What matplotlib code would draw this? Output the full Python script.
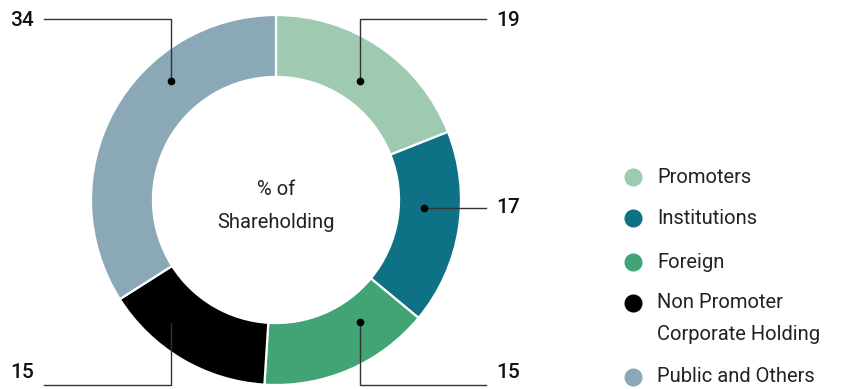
import matplotlib
matplotlib.use('Agg')
from matplotlib import pyplot as plt

plt.rcParams['font.family'] = ['Roboto', 'DejaVu Sans']

categories = ['Promoters', 'Institutions', 'Foreign',
              'Non Promoter\nCorporate Holding', 'Public and Others']
shares = [19, 17, 15, 15, 34]
colors = ['#9ecab1', '#0f7185', '#42a474', '#000000', '#8ba8b7']

W, H = 847, 389
CX, CY, R = 276, 200, 185
RING = 0.335


def py(y):
  # pixel row (top down) -> axes y (bottom up)
  return H - y


fig = plt.figure(figsize=(W / 100., H / 100.), dpi=100)
ax = fig.add_axes([0, 0, 1, 1])

ax.pie(shares, colors=colors, startangle=90, counterclock=False,
       center=(CX, py(CY)), radius=R, frame=True,
       wedgeprops=dict(width=R * RING, edgecolor='white', linewidth=1.6))
ax.set_xlim(0, W)
ax.set_ylim(0, H)
ax.set_aspect('equal')
ax.axis('off')

ax.text(CX, py(189), '% of', ha='center', va='center', fontsize=14.5, color='#222222')
ax.text(CX, py(222), 'Shareholding', ha='center', va='center', fontsize=14.5, color='#222222')

# leader lines: dot (x, y), elbow row, line end x, label x, label row
leaders = [
  (360, 81, 19, 486, 496, 20),
  (424, 208, 208, 486, 496, 207),
  (360, 322, 385, 486, 496, 372),
  (171, 319, 385, 44, 10, 372),
  (171, 81, 19, 44, 10, 20),
]
for (dx, dy, ey, ex, tx, ty), val in zip(leaders, shares):
  ax.plot([dx, dx, ex], [py(dy), py(ey), py(ey)], color='#333333', lw=1.0,
          solid_joinstyle='miter', zorder=5)
  ax.plot(dx, py(dy), 'o', color='black', ms=4.5, zorder=6)
  ax.text(tx, py(ty), str(val), ha='left', va='center', fontsize=15,
          fontweight='medium', color='#111111')

# legend
legRows = [177, 218, 262, 303, 377]
for lab, col, ly in zip(categories, colors, legRows):
  ax.plot(633, py(ly), 'o', color=col, ms=12, zorder=6)
  for i, part in enumerate(lab.split('\n')):
    ax.text(657, py(ly + 32 * i), part, ha='left', va='center',
            fontsize=14.5, color='#222222')

fig.savefig('out.png', dpi=100)
